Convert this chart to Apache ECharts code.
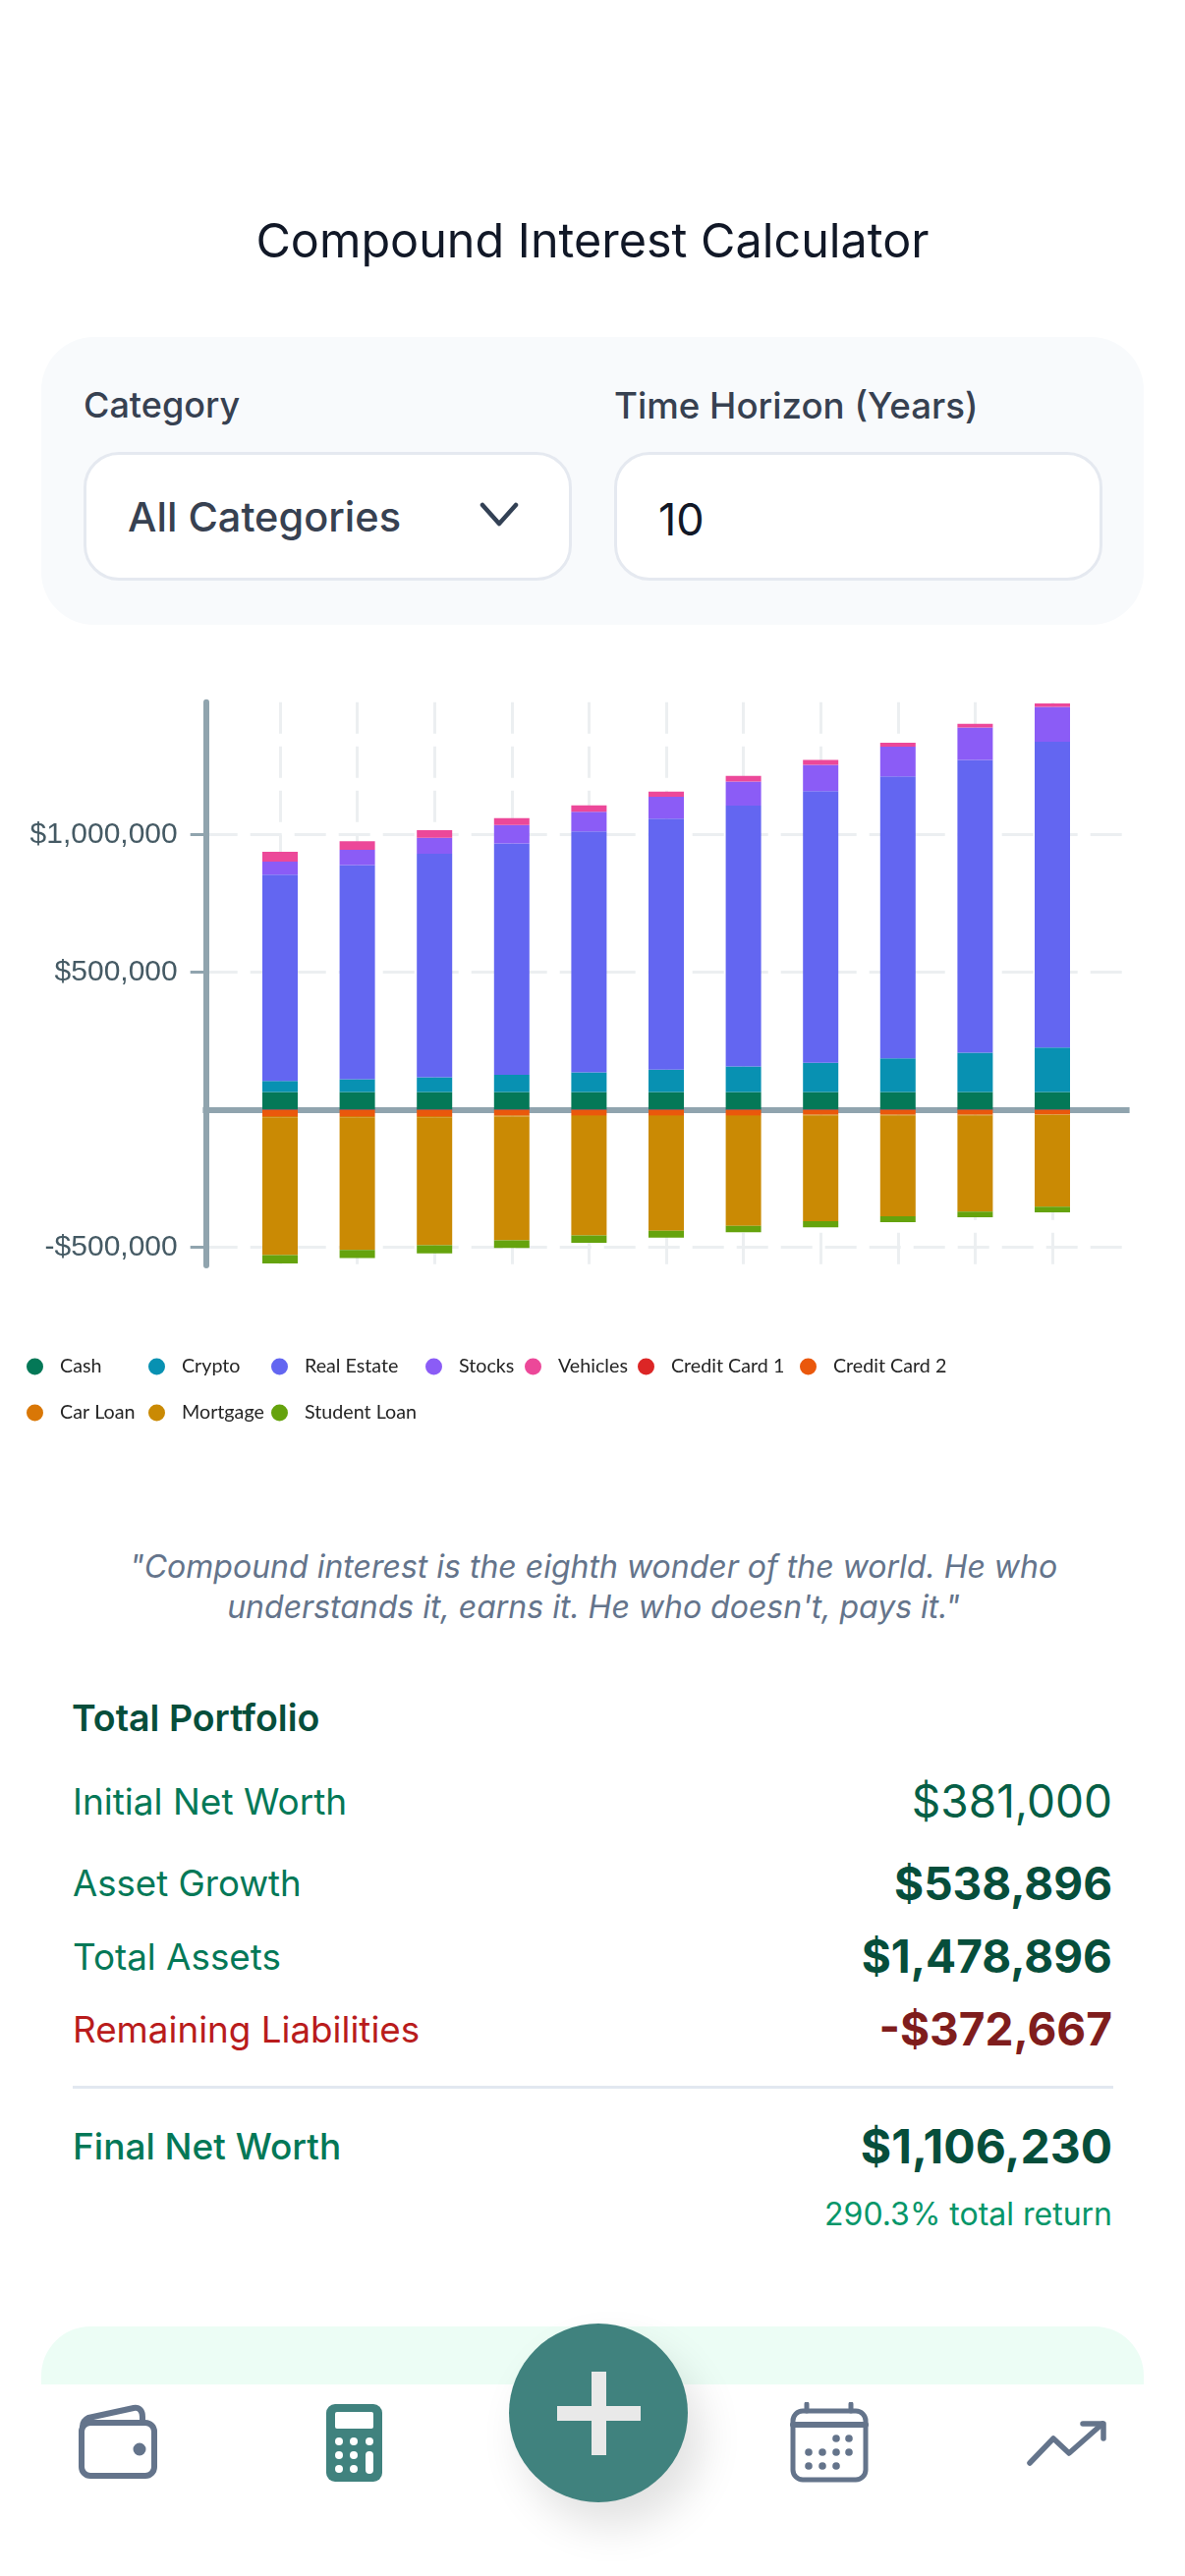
<!DOCTYPE html>
<html>
<head>
<meta charset="utf-8">
<title>Compound Interest Calculator</title>
<script src="https://cdn.jsdelivr.net/npm/echarts@6/dist/echarts.min.js"></script>
<style>
    html, body { margin: 0; padding: 0; background: #fff; }
    body { position: relative; width: 1206px; height: 2622px; overflow: hidden; font-family: Inter, sans-serif; }
    .box { position: absolute; box-sizing: border-box; }
    .txt { position: absolute; white-space: nowrap; transform: translateY(-50%); }
    .right { right: 74px; }
    .field { background: #fff; border: 3px solid #e5e9f0; border-radius: 36px; top: 460px; width: 497px; height: 131px; }
    #chart { position: absolute; left: 0; top: 680px; width: 1206px; height: 800px; }
</style>
</head>
<body>
<div class="txt" style="left:0;width:1206px;text-align:center;top:244px;font-size:48.5px;color:#111827">Compound Interest Calculator</div>

<div class="box" style="left:42px;top:343px;width:1122px;height:293px;border-radius:54px;background:#f8fafc"></div>
<div class="txt" style="left:85px;top:412px;font-size:36px;font-weight:500;color:#374151">Category</div>
<div class="txt" style="left:625px;top:412px;font-size:36.7px;font-weight:500;color:#374151">Time Horizon (Years)</div>
<div class="box field" style="left:85px"></div>
<div class="box field" style="left:625px"></div>
<div class="txt" style="left:130px;top:526px;font-size:41.5px;font-weight:500;color:#374151">All Categories</div>
<svg class="box" style="left:488px;top:510px" width="40" height="28"><path d="M3 4 L20 23 L37 4" fill="none" stroke="#334155" stroke-width="4.5" stroke-linecap="round" stroke-linejoin="round"/></svg>
<div class="txt" style="left:670px;top:528px;font-size:45px;color:#111827">10</div>

<div id="chart"></div>

<div class="txt" style="left:0;width:1208px;text-align:center;top:1594px;font-size:32px;font-style:italic;color:#64748b">"Compound interest is the eighth wonder of the world. He who</div>
<div class="txt" style="left:0;width:1208px;text-align:center;top:1635px;font-size:32px;font-style:italic;color:#64748b">understands it, earns it. He who doesn't, pays it."</div>

<div class="txt" style="left:73px;top:1748px;font-size:37.5px;font-weight:600;color:#064e3b">Total Portfolio</div>
<div class="txt" style="left:74px;top:1833px;font-size:37px;color:#047857">Initial Net Worth</div>
<div class="txt right" style="top:1833px;font-size:46px;color:#065f46">$381,000</div>
<div class="txt" style="left:74px;top:1917px;font-size:36.6px;color:#047857">Asset Growth</div>
<div class="txt right" style="top:1917px;font-size:46px;font-weight:700;color:#064e3b">$538,896</div>
<div class="txt" style="left:74px;top:1991px;font-size:36.8px;color:#047857">Total Assets</div>
<div class="txt right" style="top:1991px;font-size:46px;font-weight:700;color:#064e3b">$1,478,896</div>
<div class="txt" style="left:74px;top:2065px;font-size:36.8px;color:#b91c1c">Remaining Liabilities</div>
<div class="txt right" style="top:2065px;font-size:46px;font-weight:700;color:#7f1d1d">-$372,667</div>
<div class="box" style="left:74px;top:2123px;width:1059px;height:3px;background:#e2e8f0"></div>
<div class="txt" style="left:74px;top:2184px;font-size:37px;font-weight:500;color:#047857">Final Net Worth</div>
<div class="txt right" style="top:2184px;font-size:48px;font-weight:700;color:#064e3b">$1,106,230</div>
<div class="txt right" style="top:2253px;font-size:32px;color:#059669">290.3% total return</div>

<div class="box" style="left:42px;top:2368px;width:1122px;height:59px;border-radius:50px 50px 0 0;background:#ecfdf5"></div>

<!-- nav icons -->
<svg class="box" style="left:76px;top:2446px" width="88" height="80" fill="none" stroke="#64748b" stroke-width="6" stroke-linecap="round" stroke-linejoin="round">
    <path d="M8 24 C8 19 10 17 14 15 L60 5 C66 4 69 8 69 14 L69 20"/>
    <rect x="7" y="20" width="74" height="54" rx="9"/>
    <circle cx="66" cy="47" r="3.5" fill="#64748b"/>
</svg>
<svg class="box" style="left:332px;top:2447px" width="57" height="79">
    <rect width="57" height="79" rx="9" fill="#40827e"/>
    <rect x="9" y="8" width="39" height="17" rx="2" fill="#fff"/>
    <g fill="#fff">
        <circle cx="13" cy="38" r="4"/><circle cx="28" cy="38" r="4"/><circle cx="44" cy="38" r="4"/>
        <circle cx="13" cy="52" r="4"/><circle cx="28" cy="52" r="4"/>
        <circle cx="13" cy="66" r="4"/><circle cx="28" cy="66" r="4"/>
        <rect x="40" y="48" width="8" height="23" rx="4"/>
    </g>
</svg>
<svg class="box" style="left:804px;top:2445px" width="80" height="82" fill="none" stroke="#64748b" stroke-width="5" stroke-linecap="round">
    <rect x="3" y="9" width="74" height="70" rx="10"/>
    <path d="M3 23 H77" stroke-width="6"/>
    <path d="M17 2 V9 M62 2 V9"/>
    <g fill="#64748b" stroke="none">
        <circle cx="47" cy="37" r="3.8"/><circle cx="60" cy="37" r="3.8"/>
        <circle cx="19" cy="51" r="3.8"/><circle cx="33" cy="51" r="3.8"/><circle cx="47" cy="51" r="3.8"/><circle cx="60" cy="51" r="3.8"/>
        <circle cx="19" cy="65" r="3.8"/><circle cx="33" cy="65" r="3.8"/><circle cx="47" cy="65" r="3.8"/>
    </g>
</svg>
<svg class="box" style="left:1044px;top:2462px" width="84" height="50" fill="none" stroke="#64748b" stroke-width="5.5" stroke-linecap="round" stroke-linejoin="round">
    <path d="M4 45 L28 20 L44 35 L78 5"/>
    <path d="M58 5 H79 V20"/>
</svg>

<!-- add button -->
<div class="box" style="left:518px;top:2365px;width:182px;height:182px;border-radius:50%;background:#40827e;box-shadow:14px 24px 44px rgba(0,0,0,.12)"></div>
<div class="box" style="left:567px;top:2449px;width:85px;height:15px;background:#e9e9e9"></div>
<div class="box" style="left:602px;top:2414px;width:15px;height:85px;background:#e9e9e9"></div>

<script>
// values, one entry per year
const years = ['0', '1', '2', '3', '4', '5', '6', '7', '8', '9', '10'];
const cash = [64000, 64000, 64000, 64000, 64000, 64000, 64000, 64000, 64000, 64000, 64000];
const crypto_ = [40800, 46600, 53900, 62700, 71400, 81600, 93300, 106400, 122400, 142900, 161800];
const realEstate = [749000, 778000, 812000, 841000, 876000, 912500, 947500, 987000, 1025000, 1064000, 1111000];
const stocks = [48000, 55400, 58300, 67000, 71400, 78700, 87500, 96200, 107900, 118000, 126800];
const vehicles = [35000, 32000, 27700, 24800, 23300, 19000, 20400, 17500, 14600, 13100, 13100];
const creditCard1 = [-2000, -2000, -2000, -2000, -2000, -2000, -2000, -2000, -2000, -2000, -2000];
const creditCard2 = [-21000, -21000, -21000, -19000, -18000, -18000, -18000, -16000, -16000, -16000, -15000];
const carLoan = [-4700, -4700, -4700, -3800, -3300, -3300, -3300, -2400, -2400, -2400, -2000];
const mortgage = [-501000, -482500, -465000, -450000, -434000, -417000, -399000, -385000, -367000, -350000, -334000];
const studentLoan = [-30600, -29200, -29200, -27700, -26200, -24800, -23300, -21900, -21900, -20400, -20400];

const yTicks = [-500000, 500000, 1000000];

const seriesNames = ['Cash', 'Crypto', 'Real Estate', 'Stocks', 'Vehicles', 'Credit Card 1', 'Credit Card 2', 'Car Loan', 'Mortgage', 'Student Loan'];
const seriesData = [cash, crypto_, realEstate, stocks, vehicles, creditCard1, creditCard2, carLoan, mortgage, studentLoan];
const seriesColors = ['#047857', '#0891b2', '#6366f1', '#8b5cf6', '#ec4899', '#dc2626', '#ea580c', '#d97706', '#ca8a04', '#65a30d'];

// legend dots are not evenly spaced in the original, so each one is placed on its own
const legendLeft = [27, 151, 276, 433, 534, 649, 814, 27, 151, 276];
const legendTop = [701, 701, 701, 701, 701, 701, 701, 748, 748, 748];

function money(v) {
    return (v < 0 ? '-$' : '$') + Math.abs(v).toLocaleString('en-US');
}

let myChart = echarts.init(document.getElementById('chart'), null, { renderer: 'canvas' });
let option = {
    animation: false,
    grid: { left: 206.4, top: 34.7, width: 943.2, height: 573.3, containLabel: false },
    legend: seriesNames.map((name, i) => ({
        data: [name],
        left: legendLeft[i],
        top: legendTop[i],
        padding: 0,
        icon: 'circle',
        itemWidth: 17,
        itemHeight: 17,
        selectedMode: false,
        textStyle: { fontFamily: 'Lato', fontSize: 19.7, color: '#252525', padding: [0, 0, 0, 12] }
    })),
    xAxis: {
        type: 'category',
        // blank slots at both ends keep the bars away from the axes
        data: ['', ...years, ' '],
        boundaryGap: false,
        axisLine: { onZero: true, lineStyle: { color: '#90a4ae', width: 6, cap: 'butt' } },
        axisTick: { show: false },
        axisLabel: { show: false },
        splitLine: {
            show: true,
            interval: 0,
            showMinLine: false,
            showMaxLine: false,
            lineStyle: { color: '#eceff1', width: 3, type: [32, 13] }
        }
    },
    yAxis: {
        type: 'value',
        min: -566000,
        max: 1481000,
        offset: -3.3,
        axisLine: { show: true, onZero: false, lineStyle: { color: '#90a4ae', width: 6, cap: 'round' } },
        axisTick: { show: true, length: 16, customValues: yTicks, lineStyle: { color: '#90a4ae', width: 3 } },
        axisLabel: {
            customValues: yTicks,
            margin: 29,
            fontFamily: 'Liberation Sans',
            fontSize: 30,
            color: '#455a64',
            padding: [4, 0, 0, 0],
            formatter: money
        },
        splitLine: {
            show: true,
            customValues: yTicks,
            lineStyle: { color: '#eceff1', width: 3, type: [32, 13], dashOffset: 41.7 }
        }
    },
    series: seriesNames.map((name, i) => ({
        name: name,
        type: 'bar',
        stack: 'total',
        barWidth: 36,
        itemStyle: { color: seriesColors[i] },
        data: [null, ...seriesData[i], null]
    }))
};
myChart.setOption(option);
</script>
</body>
</html>
